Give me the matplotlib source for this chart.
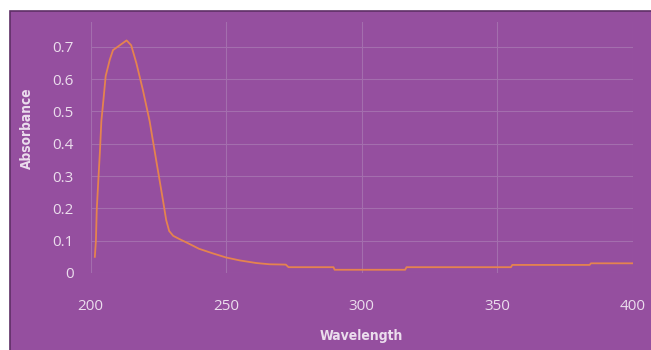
import matplotlib
matplotlib.use("Agg")
import matplotlib.pyplot as plt
from matplotlib.patches import Rectangle

wavelength = [201.6, 202.0, 202.3, 202.9, 203.5, 204.0, 204.7, 205.6, 207.1, 208.3, 210.8,
              213.3, 215.0, 216.9, 219.3, 221.8, 224.2, 226.7, 227.9, 229.0, 230.5, 232.8,
              236.0, 240.0, 245.0, 250.0, 255.0, 261.0, 266.0, 272.0, 273.0, 289.6, 290.0,
              316.0, 316.5, 355.0, 355.5, 384.0, 384.5, 400.0]
absorbance = [0.05, 0.10, 0.195, 0.29, 0.38, 0.47, 0.53, 0.61, 0.66, 0.69, 0.705,
              0.72, 0.705, 0.65, 0.567, 0.47, 0.35, 0.226, 0.164, 0.13, 0.115, 0.105,
              0.092, 0.075, 0.061, 0.048, 0.039, 0.031, 0.027, 0.026, 0.018, 0.018, 0.01,
              0.01, 0.018, 0.018, 0.025, 0.025, 0.03, 0.03]

x_ticks = [200, 250, 300, 350, 400]
y_ticks = [0, 0.1, 0.2, 0.3, 0.4, 0.5, 0.6, 0.7]
y_tick_labels = ["0", "0.1", "0.2", "0.3", "0.4", "0.5", "0.6", "0.7"]

bg = "#954F9F"
txt = "#EBDDED"
grid = "#A46EAE"
line_color = "#E5834F"

W, H = 651, 350
fig = plt.figure(figsize=(W / 100, H / 100), dpi=100)
fig.patch.set_facecolor("white")
fig.patches.append(Rectangle((10 / W, -0.05), 1.0, 1 - 11 / H + 0.05,
                             transform=fig.transFigure,
                             facecolor=bg, edgecolor="#5E2F66", linewidth=1.2, zorder=-10))

ax = fig.add_axes([90.5 / W, (H - 273) / H, (633 - 90.5) / W, (273 - 22) / H])
ax.set_zorder(5)
ax.set_facecolor(bg)
ax.plot(wavelength, absorbance, color=line_color, linewidth=1.3)
ax.set_xlim(200, 400)
ax.set_ylim(0, 0.777)
ax.set_xticks(x_ticks)
ax.set_yticks(y_ticks)
ax.set_yticklabels(y_tick_labels)
ax.grid(True, color=grid, linewidth=0.8)
ax.set_axisbelow(True)
for s in ax.spines.values():
    s.set_visible(False)
ax.tick_params(axis="both", length=0, colors=txt, labelsize=11)
ax.tick_params(axis="y", pad=12)
ax.tick_params(axis="x", pad=19)
for lbl in ax.get_xticklabels() + ax.get_yticklabels():
    lbl.set_family("Open Sans")

fig.text(361 / W, 1 - 336 / H, "Wavelength", color=txt, fontsize=10, fontweight="bold",
         fontstretch="condensed", ha="center", va="center", zorder=10)
fig.text(27 / W, 1 - 128 / H, "Absorbance", color=txt, fontsize=9.8, fontweight="bold",
         fontstretch="condensed", ha="center", va="center", rotation=90, zorder=10)

fig.savefig("out.png", dpi=100, facecolor=fig.get_facecolor())
